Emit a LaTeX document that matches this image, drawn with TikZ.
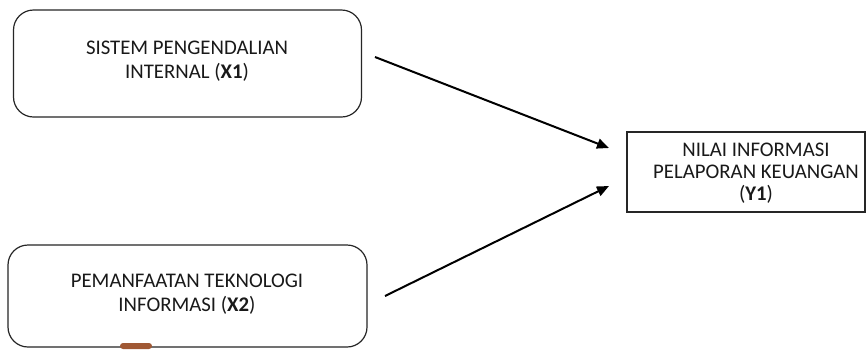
\documentclass[tikz,border=0pt]{standalone}
\usepackage{fontspec}
\setmainfont{Carlito}
\usetikzlibrary{arrows.meta,calc}
\definecolor{brownpatch}{RGB}{160,88,52}
\begin{document}
\begin{tikzpicture}[x=1pt,y=-1pt,
  rbox/.style={draw=black!85,line width=1.2pt,rounded corners=20pt,inner sep=0pt},
  sbox/.style={draw=black!85,line width=1.2pt,inner sep=0pt},
  txt/.style={align=center,font=\fontsize{20.8}{23.5}\selectfont,text=black!90,inner sep=0pt},
  conn/.style={line width=2pt,-{Triangle[length=12pt,width=10pt]}}]
\useasboundingbox[fill=white] (0,0) rectangle (866,349);
\node[rbox,minimum width=348pt,minimum height=107pt] (x1) at (187.5,63.5) {};
\node[txt] (x1t) at (187,61) {SISTEM PENGENDALIAN\\INTERNAL (\textbf{X1})};
\node[rbox,minimum width=359pt,minimum height=102pt] (x2) at (187.5,296) {};
\node[txt] (x2t) at (187,294) {PEMANFAATAN TEKNOLOGI\\INFORMASI (\textbf{X2})};
\node[sbox,minimum width=238pt,minimum height=80pt] (y1) at (746,172) {};
\node[txt,font=\fontsize{20.8}{22}\selectfont] (y1t) at (756,173) {NILAI INFORMASI\\PELAPORAN KEUANGAN\\(\textbf{Y1})};
\coordinate (s1) at (375,57);
\coordinate (e1) at (609,148);
\coordinate (s2) at (385,296);
\coordinate (e2) at (609,186);
\draw[conn] (s1) -- (e1);
\draw[conn] (s2) -- (e2);
\fill[brownpatch,rounded corners=3pt] (120,349) -- (120,343) -- (152,343) -- (152,349) -- cycle;
\end{tikzpicture}
\end{document}
